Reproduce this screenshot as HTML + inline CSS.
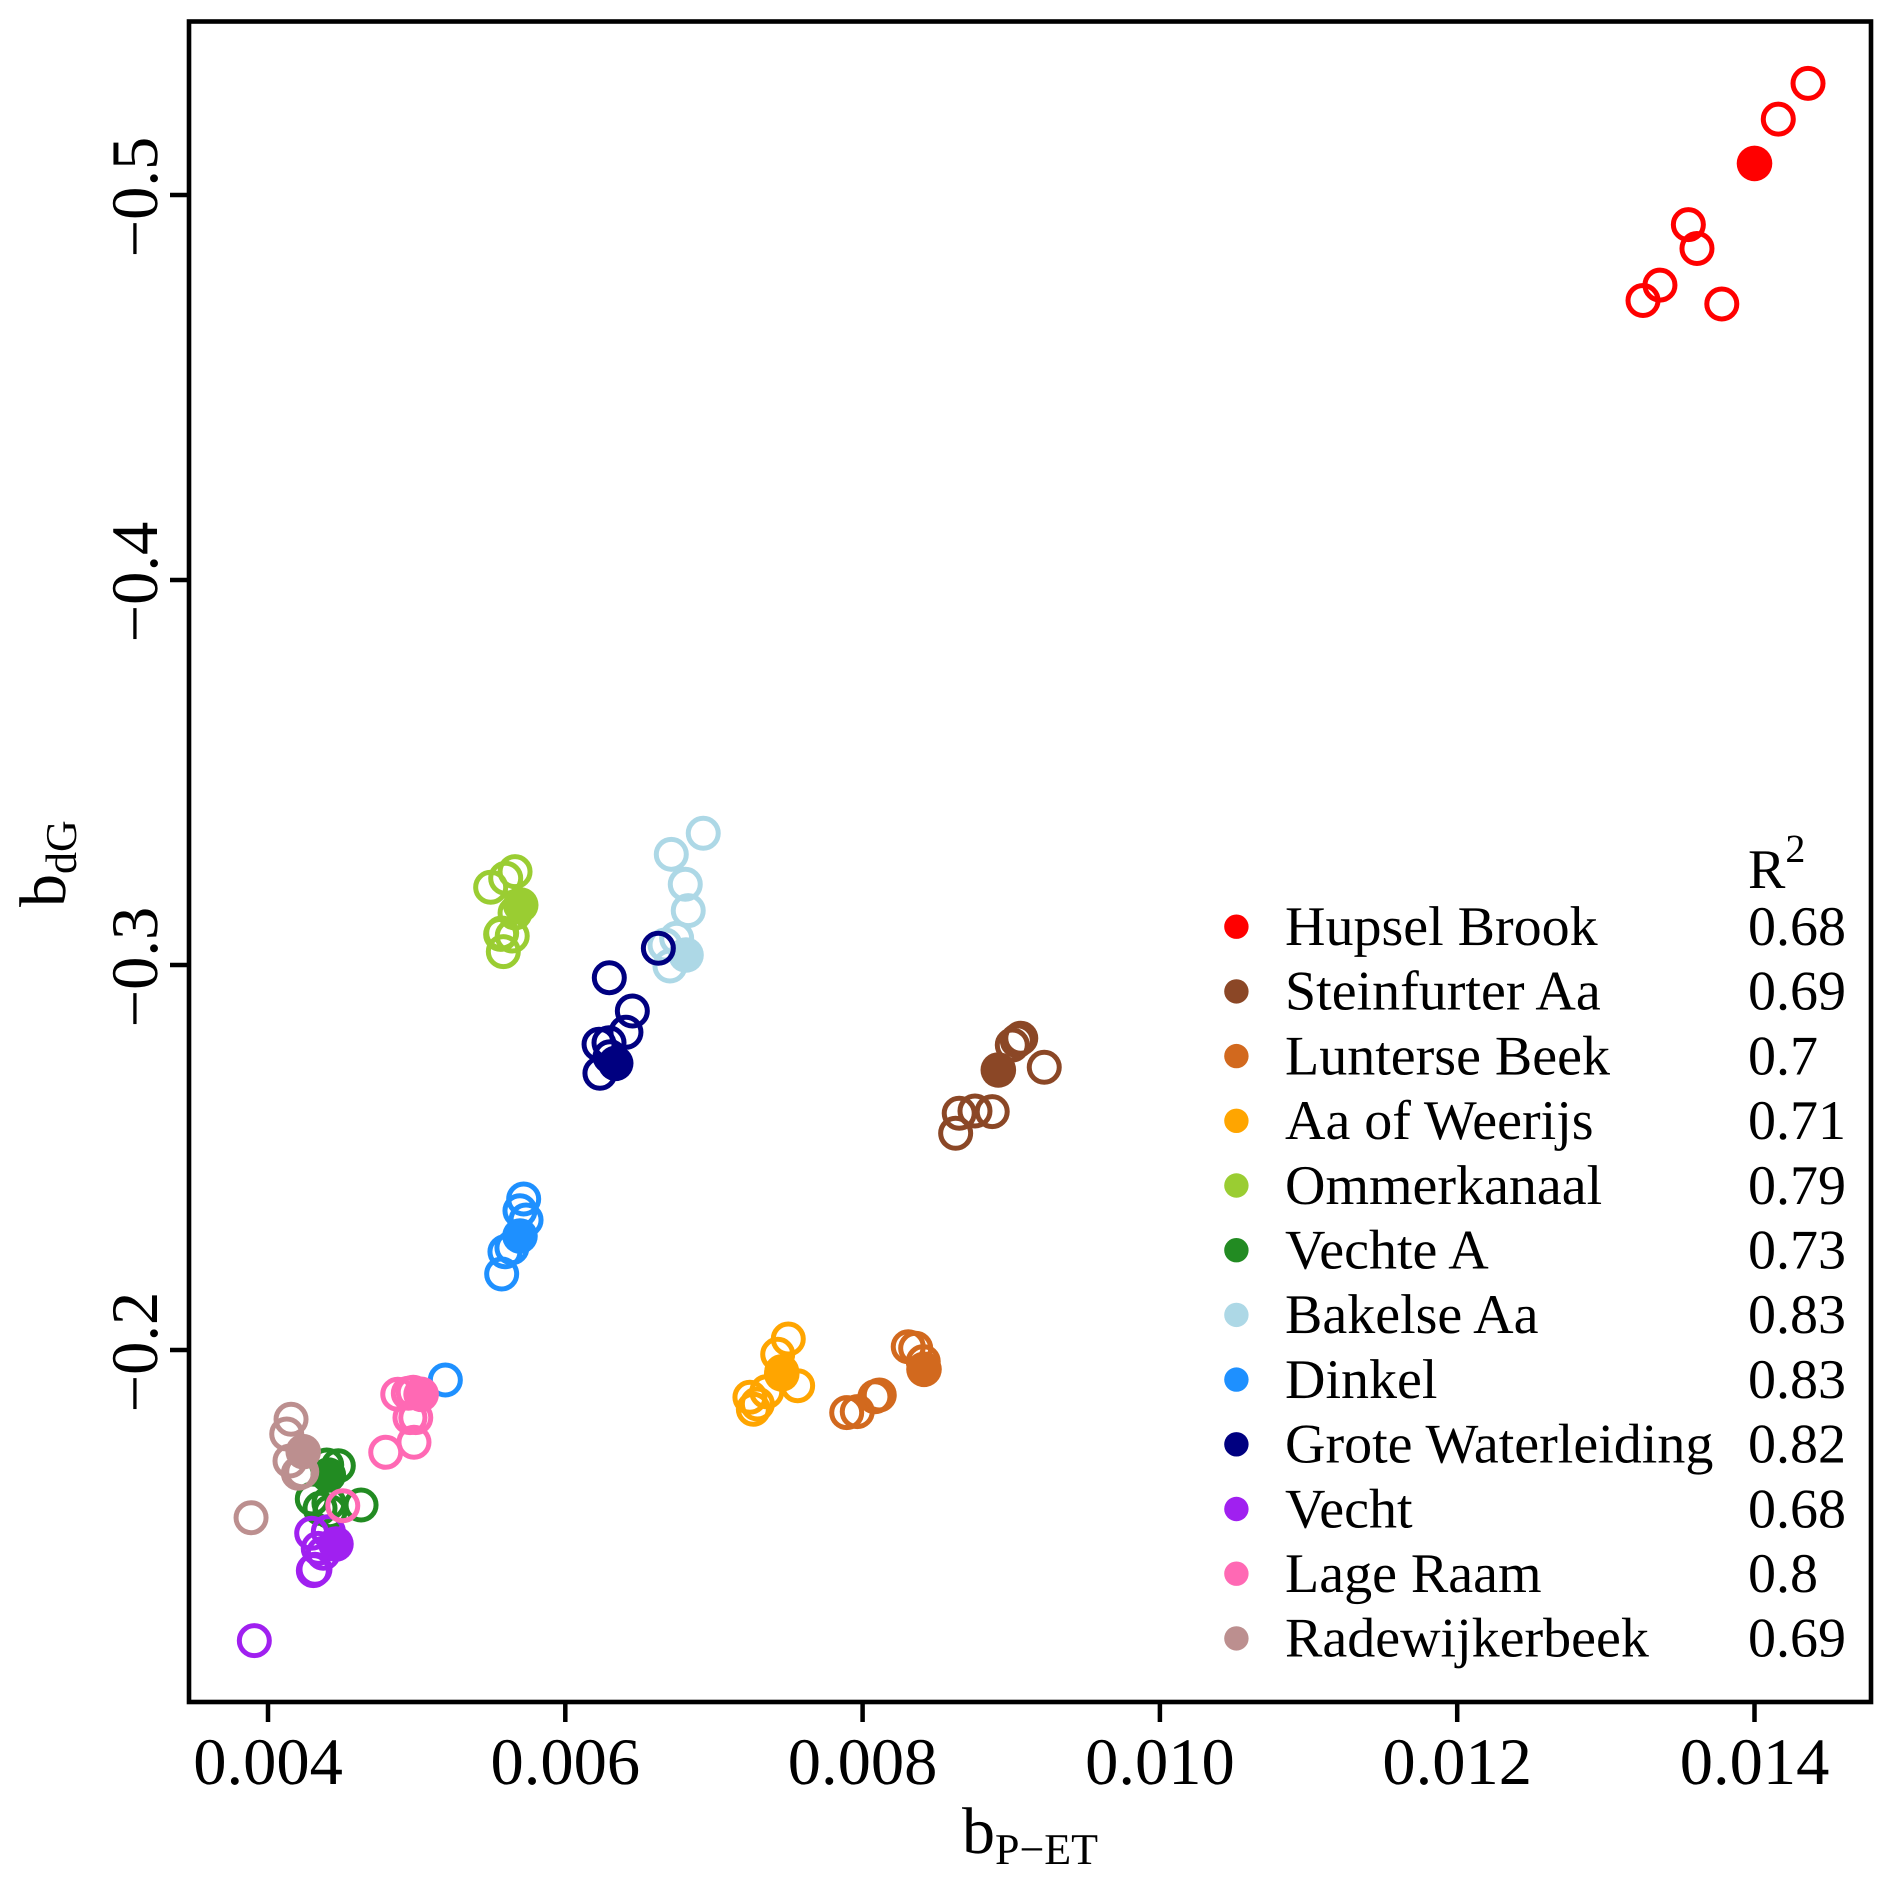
<!DOCTYPE html>
<html lang="en">
<head>
<meta charset="utf-8">
<title>bP-ET versus bdG scatter chart</title>
<style>
html,body{margin:0;padding:0;background:#fff;}
svg{display:block;}
text{font-family:"Liberation Serif","Times New Roman",serif;fill:#000;text-rendering:geometricPrecision;}
</style>
</head>
<body>
<svg id="chart" xmlns="http://www.w3.org/2000/svg" width="1892" height="1884" viewBox="0 0 1892 1884">
  <rect x="0" y="0" width="1892" height="1884" fill="#fff"/>
  <g id="points"></g>
  <rect x="189" y="21.5" width="1682" height="1680.5" fill="none" stroke="#000" stroke-width="4.6"/>
  <g id="x-axis"></g>
  <g id="y-axis"></g>
  <text x="962" y="1853" font-size="66">b<tspan font-size="44" dy="11">P−ET</tspan></text>
  <text x="65" y="907" font-size="66" transform="rotate(-90 65 907)">b<tspan font-size="44" dy="11">dG</tspan></text>
  <g id="legend">
    <text x="1748" y="888" font-size="56">R<tspan font-size="40" dy="-26">2</tspan></text>
  </g>
</svg>
<script>
const categories = ["Hupsel Brook","Steinfurter Aa","Lunterse Beek","Aa of Weerijs","Ommerkanaal","Vechte A","Bakelse Aa","Dinkel","Grote Waterleiding","Vecht","Lage Raam","Radewijkerbeek"];
const rSquaredLabels = ["0.68","0.69","0.7","0.71","0.79","0.73","0.83","0.83","0.82","0.68","0.8","0.69"];
const seriesColors = ["#FF0000","#8B4726","#D2691E","#FFA500","#9ACD32","#228B22","#ADD8E6","#1E90FF","#000080","#A020F0","#FF69B4","#BC8F8F"];
const xTicks = [0.004,0.006,0.008,0.010,0.012,0.014];
const xTickLabels = ["0.004","0.006","0.008","0.010","0.012","0.014"];
const yTicks = [-0.5,-0.4,-0.3,-0.2];
const yTickLabels = ["−0.5","−0.4","−0.3","−0.2"];

// In each series the first value is the filled marker, the rest are open markers.
const bPET = [
  [0.01400,0.01436,0.01416,0.013555,0.013613,0.013364,0.01325,0.01378],
  [0.008913,0.009064,0.009041,0.009007,0.009222,0.00865,0.008756,0.008872,0.008626],
  [0.008413,0.008307,0.008357,0.008408,0.008112,0.008083,0.007964,0.007893],
  [0.007456,0.0075,0.007429,0.007456,0.007563,0.007355,0.007242,0.007292,0.007265],
  [0.0057,0.005662,0.005599,0.005498,0.005662,0.005572,0.005565,0.005643,0.005583],
  [0.004406,0.004395,0.004473,0.004626,0.004298,0.00435,0.00441,0.004417],
  [0.006812,0.006928,0.006713,0.006807,0.006827,0.006749,0.006671,0.006704],
  [0.005695,0.00572,0.005695,0.005736,0.005641,0.005594,0.005572,0.005193],
  [0.006339,0.006626,0.006296,0.006451,0.006408,0.006227,0.006294,0.006233,0.006301],
  [0.004457,0.004294,0.004406,0.004338,0.004372,0.004316,0.004305,0.003908],
  [0.00503,0.004873,0.004944,0.004977,0.004955,0.004994,0.004982,0.004792,0.004503],
  [0.004237,0.004155,0.004126,0.004148,0.004204,0.004227,0.003886]
];
const bdG = [
  [-0.5082,-0.529,-0.5197,-0.4923,-0.4861,-0.4766,-0.4726,-0.4717],
  [-0.27273,-0.28096,-0.28034,-0.27922,-0.27343,-0.26148,-0.26208,-0.2619,-0.25629],
  [-0.19499,-0.20086,-0.20044,-0.19697,-0.18831,-0.18787,-0.18398,-0.18372],
  [-0.19377,-0.20286,-0.19888,-0.19437,-0.19073,-0.18917,-0.18772,-0.18597,-0.1846],
  [-0.31558,-0.32424,-0.32252,-0.32018,-0.31351,-0.30831,-0.30797,-0.30753,-0.30346],
  [-0.16753,-0.17013,-0.16995,-0.15974,-0.1613,-0.15888,-0.16026,-0.158],
  [-0.3026,-0.33421,-0.32875,-0.32096,-0.31411,-0.30694,-0.30519,-0.29974],
  [-0.22961,-0.23922,-0.23618,-0.23377,-0.22657,-0.22553,-0.21974,-0.19221],
  [-0.27447,-0.30434,-0.2967,-0.28805,-0.28252,-0.2794,-0.27982,-0.27187,-0.27618],
  [-0.14961,-0.15239,-0.15281,-0.14849,-0.1472,-0.14304,-0.14268,-0.1245],
  [-0.1885,-0.1885,-0.18876,-0.18901,-0.18242,-0.18242,-0.17603,-0.17343,-0.15956],
  [-0.17359,-0.182,-0.17818,-0.17117,-0.16798,-0.16839,-0.15644]
];

const SVG_NS = "http://www.w3.org/2000/svg";
function xScale(v){ return 268 + (v - 0.004) * 148650; }
function yScale(v){ return 195 + (v + 0.5) * 3850; }
function slug(s){ return s.toLowerCase().replace(/[^a-z0-9]+/g,"-"); }

const pointsLayer = document.getElementById("points");
const xAxisLayer = document.getElementById("x-axis");
const yAxisLayer = document.getElementById("y-axis");
const legendLayer = document.getElementById("legend");

categories.forEach(function(name, s){
  const group = document.createElementNS(SVG_NS, "g");
  
  
  pointsLayer.appendChild(group);
  // open markers first, filled marker on top
  for (let i = 1; i <= bPET[s].length; i++) {
    const k = i % bPET[s].length;
    const c = document.createElementNS(SVG_NS, "circle");
    
    
    c.setAttribute("cx", xScale(bPET[s][k]));
    c.setAttribute("cy", yScale(bdG[s][k]));
    c.setAttribute("r", k === 0 ? 17.8 : 15);
    c.setAttribute("fill", k === 0 ? seriesColors[s] : "none");
    c.setAttribute("stroke", k === 0 ? "none" : seriesColors[s]);
    c.setAttribute("stroke-width", k === 0 ? 0 : 5);
    group.appendChild(c);
  }
});

xTicks.forEach(function(v, i){
  const tick = document.createElementNS(SVG_NS, "line");
  
  
  tick.setAttribute("x1", xScale(v));
  tick.setAttribute("x2", xScale(v));
  tick.setAttribute("y1", 1702);
  tick.setAttribute("y2", 1722);
  tick.setAttribute("stroke", "#000");
  tick.setAttribute("stroke-width", 4.5);
  xAxisLayer.appendChild(tick);
  const label = document.createElementNS(SVG_NS, "text");
  
  
  label.setAttribute("x", xScale(v));
  label.setAttribute("y", 1784);
  label.setAttribute("font-size", 66.5);
  label.setAttribute("text-anchor", "middle");
  label.textContent = xTickLabels[i];
  xAxisLayer.appendChild(label);
});

yTicks.forEach(function(v, i){
  const tick = document.createElementNS(SVG_NS, "line");
  
  
  tick.setAttribute("x1", 170);
  tick.setAttribute("x2", 189);
  tick.setAttribute("y1", yScale(v));
  tick.setAttribute("y2", yScale(v));
  tick.setAttribute("stroke", "#000");
  tick.setAttribute("stroke-width", 4.5);
  yAxisLayer.appendChild(tick);
  const label = document.createElementNS(SVG_NS, "text");
  
  
  label.setAttribute("x", 157);
  label.setAttribute("y", yScale(v) + 2);
  label.setAttribute("font-size", 66.5);
  label.setAttribute("text-anchor", "middle");
  label.setAttribute("transform", "rotate(-90 157 " + (yScale(v) + 2) + ")");
  label.textContent = yTickLabels[i];
  yAxisLayer.appendChild(label);
});

categories.forEach(function(name, i){
  const rowY = 926.7 + i * 64.7;
  const swatch = document.createElementNS(SVG_NS, "circle");
  
  
  swatch.setAttribute("cx", 1236.4);
  swatch.setAttribute("cy", rowY);
  swatch.setAttribute("r", 12.2);
  swatch.setAttribute("fill", seriesColors[i]);
  legendLayer.appendChild(swatch);
  const label = document.createElementNS(SVG_NS, "text");
  
  
  label.setAttribute("x", 1285);
  label.setAttribute("y", rowY + 18.3);
  label.setAttribute("font-size", 56);
  label.textContent = name;
  legendLayer.appendChild(label);
  const r2 = document.createElementNS(SVG_NS, "text");
  
  
  r2.setAttribute("x", 1748);
  r2.setAttribute("y", rowY + 18.3);
  r2.setAttribute("font-size", 56);
  r2.textContent = rSquaredLabels[i];
  legendLayer.appendChild(r2);
});
</script>
</body>
</html>
